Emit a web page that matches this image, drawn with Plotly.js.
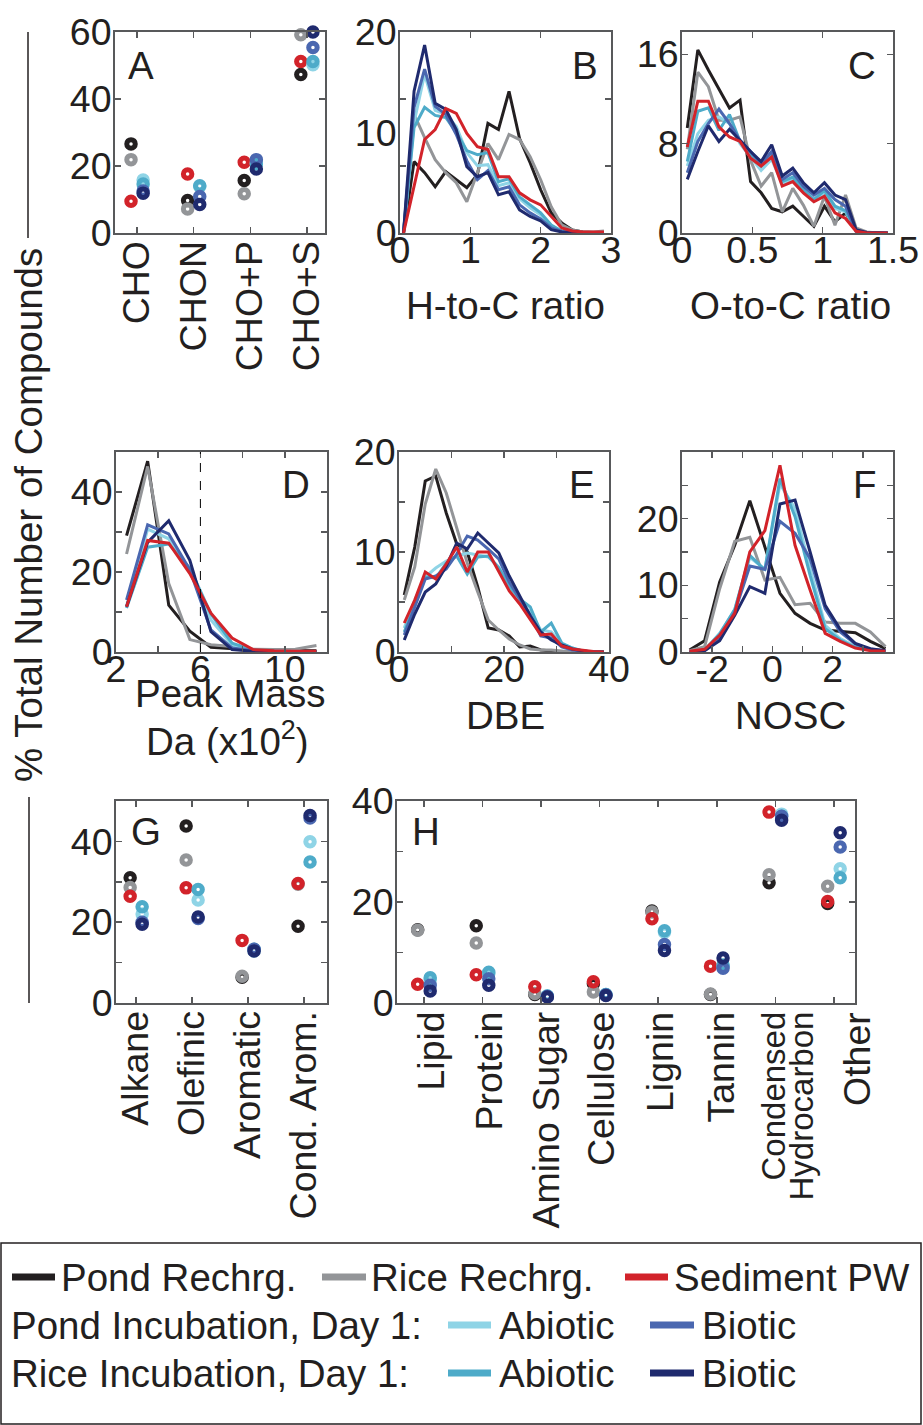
<!DOCTYPE html>
<html>
<head>
<meta charset="utf-8">
<script src="https://cdn.plot.ly/plotly-3.0.1.min.js"></script>
<style>html,body{margin:0;padding:0;background:#fff}#chart{width:923px;height:1425px}</style>
</head>
<body>
<div id="chart"></div>
<script>
// ---------------- DATA ----------------
const seriesNames = ['Pond Rechrg.', 'Rice Rechrg.', 'Sediment PW', 'Pond Abiotic', 'Rice Abiotic', 'Pond Biotic', 'Rice Biotic'];

// Panel A: elemental composition
const elemCats = ['CHO', 'CHON', 'CHO+P', 'CHO+S'];
const elem_PondRech = [26.6, 9.7, 15.7, 47.3];
const elem_RiceRech = [21.9, 7.2, 11.7, 59.2];
const elem_SedPW    = [9.5, 17.6, 21.1, 51.2];
const elem_PondAbio = [15.8, 13.9, 20.8, 50.2];
const elem_RiceAbio = [14.6, 14.1, 20.6, 51.2];
const elem_PondBio  = [12.5, 10.9, 21.9, 55.4];
const elem_RiceBio  = [11.9, 8.5, 19.1, 60.0];

// Panel B: H-to-C ratio
const hcBins = [0.05, 0.2, 0.35, 0.5, 0.65, 0.8, 0.95, 1.1, 1.25, 1.4, 1.55, 1.7, 1.85, 2.0, 2.15, 2.3, 2.45, 2.6, 2.75, 2.9];
const hc_PondRech = [0, 7.1, 6.0, 4.6, 6.1, 5.3, 4.5, 5.8, 10.9, 10.3, 14.1, 9.4, 7.0, 4.3, 2.0, 1.0, 0.3, 0.1, 0.05, 0];
const hc_RiceRech = [0, 11.8, 9.5, 7.3, 6.0, 5.0, 3.1, 6.0, 8.9, 7.3, 9.8, 9.3, 7.6, 5.3, 2.6, 0.8, 0.3, 0.1, 0.1, 0.2];
const hc_SedPW    = [0, 4.7, 9.3, 10.3, 12.4, 11.9, 9.9, 8.6, 8.3, 5.6, 5.6, 4.0, 3.3, 2.8, 1.7, 0.5, 0.2, 0.1, 0.1, 0.1];
const hc_PondAbio = [0, 11.0, 15.8, 12.2, 11.8, 10.6, 8.0, 6.7, 6.8, 4.7, 5.0, 3.4, 2.5, 1.8, 0.7, 0.2, 0.1, 0, 0, 0];
const hc_RiceAbio = [0, 10.5, 12.5, 11.7, 11.5, 10.0, 8.2, 7.8, 8.0, 5.1, 5.4, 3.6, 2.8, 2.0, 0.8, 0.2, 0.1, 0, 0, 0];
const hc_PondBio  = [0, 12.5, 16.3, 12.6, 11.8, 9.8, 7.2, 5.3, 6.2, 4.3, 4.6, 2.8, 2.0, 1.4, 0.5, 0.15, 0.05, 0, 0, 0];
const hc_RiceBio  = [0, 14.1, 18.7, 12.9, 12.3, 10.3, 6.6, 5.6, 6.0, 3.8, 4.1, 2.3, 1.65, 1.2, 0.33, 0.1, 0.05, 0, 0, 0];

// Panel C: O-to-C ratio
const ocBins = [0.0375, 0.1125, 0.1875, 0.2625, 0.3375, 0.4125, 0.4875, 0.5625, 0.6375, 0.7125, 0.7875, 0.8625, 0.9375, 1.0125, 1.0875, 1.1625, 1.2375, 1.3125, 1.3875, 1.4625];
const oc_PondRech = [9.4, 16.4, 14.6, 12.9, 11.2, 11.9, 4.6, 3.6, 2.2, 1.9, 2.4, 1.5, 0.6, 2.4, 1.0, 1.8, 0.3, 0.05, 0, 0];
const oc_RiceRech = [7.5, 14.4, 13.1, 10.1, 10.1, 10.4, 6.5, 4.2, 5.4, 1.9, 4.0, 2.5, 0.6, 3.3, 0.7, 3.4, 0.45, 0.1, 0, 0];
const oc_SedPW    = [7.7, 11.8, 11.8, 9.5, 8.6, 8.2, 6.7, 6.0, 6.8, 4.2, 4.6, 3.6, 2.8, 3.3, 1.8, 1.3, 0.15, 0, 0, 0];
const oc_PondAbio = [6.0, 8.9, 10.1, 10.4, 9.8, 8.0, 6.8, 5.6, 6.6, 4.4, 4.8, 3.7, 2.9, 3.6, 2.2, 1.9, 0.2, 0, 0, 0];
const oc_RiceAbio = [6.4, 10.9, 11.2, 9.2, 10.6, 8.2, 7.0, 6.0, 7.0, 4.6, 5.0, 3.9, 3.0, 3.8, 2.4, 2.0, 0.2, 0, 0, 0];
const oc_PondBio  = [5.4, 8.2, 9.8, 11.1, 9.8, 8.3, 7.3, 6.2, 7.3, 4.8, 5.4, 4.2, 3.4, 4.0, 3.0, 2.4, 0.15, 0, 0, 0];
const oc_RiceBio  = [4.8, 7.3, 9.6, 8.2, 9.3, 8.3, 7.3, 6.4, 7.9, 5.1, 5.8, 4.5, 3.6, 4.5, 3.4, 3.0, 0.3, 0.05, 0, 0];

// Panel D: peak mass (x100 Da)
const massBins = [2.5, 3.5, 4.5, 5.5, 6.5, 7.5, 8.5, 9.5, 10.5, 11.5];
const massCutoff = 6;
const mass_PondRech = [29.1, 47.7, 11.7, 5.2, 1.2, 0.8, 0.5, 0.4, 0.3, 0.3];
const mass_RiceRech = [24.5, 46.4, 17.1, 3.1, 1.8, 1.4, 0.7, 0.6, 0.7, 1.6];
const mass_SedPW    = [11.3, 27.9, 27.2, 19.6, 9.7, 3.5, 0.6, 0.3, 0.2, 0.2];
const mass_PondAbio = [11.5, 30.7, 28.3, 20.4, 8.0, 1.8, 0.4, 0.2, 0.1, 0.1];
const mass_RiceAbio = [11.0, 26.2, 27.0, 21.0, 9.5, 2.2, 0.5, 0.2, 0.1, 0.1];
const mass_PondBio  = [13.0, 31.8, 29.5, 20.5, 5.5, 1.0, 0.3, 0.1, 0.1, 0.1];
const mass_RiceBio  = [11.3, 27.4, 32.8, 22.9, 5.1, 0.6, 0.2, 0.1, 0.1, 0.1];

// Panel E: DBE
const dbeBins = [1, 3, 5, 7, 9, 11, 13, 15, 17, 19, 21, 23, 25, 27, 29, 31, 33, 35, 37, 39];
const dbe_PondRech = [5.7, 10.5, 17.1, 17.6, 13.9, 10.8, 10.0, 6.5, 2.4, 2.2, 1.6, 0.5, 0.6, 0.2, 0.1, 0, 0, 0, 0, 0];
const dbe_RiceRech = [5.2, 8.5, 14.8, 18.3, 15.9, 12.4, 8.9, 6.0, 3.2, 2.2, 1.3, 0.7, 0.3, 0.2, 0.2, 0.1, 0, 0, 0, 0];
const dbe_SedPW    = [2.9, 5.2, 8.0, 7.3, 8.8, 10.5, 8.0, 10.0, 10.0, 8.0, 6.1, 4.8, 3.3, 1.7, 1.8, 0.6, 0.3, 0.15, 0.05, 0];
const dbe_PondAbio = [2.4, 5.2, 7.5, 8.4, 9.1, 9.6, 9.9, 9.7, 9.5, 8.5, 6.5, 5.0, 4.0, 2.2, 2.0, 0.8, 0.4, 0.1, 0, 0];
const dbe_RiceAbio = [2.0, 4.8, 7.5, 7.4, 8.9, 9.6, 7.8, 9.5, 9.6, 8.4, 6.6, 5.3, 4.5, 2.0, 2.9, 0.9, 0.4, 0.1, 0, 0];
const dbe_PondBio  = [1.7, 4.5, 7.3, 7.6, 8.3, 9.8, 11.6, 11.2, 10.3, 9.3, 7.0, 5.3, 3.7, 1.6, 1.4, 0.5, 0.2, 0.1, 0, 0];
const dbe_RiceBio  = [1.2, 3.8, 6.0, 6.8, 8.6, 10.9, 10.3, 11.9, 10.9, 9.9, 7.6, 5.6, 3.6, 2.0, 1.2, 0.7, 0.3, 0.1, 0, 0];

// Panel F: NOSC
const noscBins = [-2.75, -2.25, -1.75, -1.25, -0.75, -0.25, 0.25, 0.75, 1.25, 1.75, 2.25, 2.75, 3.25, 3.75];
const nosc_PondRech = [0.3, 1.7, 10.5, 16.0, 22.7, 15.7, 8.8, 5.8, 4.3, 3.3, 3.1, 2.9, 1.6, 0.5];
const nosc_RiceRech = [0.2, 0.8, 9.5, 16.6, 17.2, 10.8, 11.2, 7.1, 7.3, 4.5, 4.3, 4.3, 3.0, 0.8];
const nosc_SedPW    = [0.1, 0.4, 2.5, 5.8, 15.0, 18.2, 28.0, 16.0, 9.3, 2.8, 1.6, 0.6, 0.2, 0.1];
const nosc_PondAbio = [0, 0.3, 2.8, 6.3, 14.2, 12.4, 25.2, 21.5, 12.5, 4.0, 2.0, 0.8, 0.3, 0.1];
const nosc_RiceAbio = [0, 0.3, 2.7, 6.4, 14.5, 12.3, 26.0, 20.3, 11.5, 3.5, 1.8, 0.7, 0.3, 0.1];
const nosc_PondBio  = [0, 0.2, 2.0, 6.0, 12.9, 12.4, 19.6, 17.8, 14.0, 6.5, 3.0, 1.2, 0.4, 0.2];
const nosc_RiceBio  = [0, 0.2, 1.7, 5.5, 9.8, 8.8, 22.2, 22.8, 15.0, 7.0, 3.4, 1.3, 0.5, 0.2];

// Panel G: structural classes
const structCats = ['Alkane', 'Olefinic', 'Aromatic', 'Cond. Arom.'];
const struct_PondRech = [31.0, 43.8, 6.4, 19.0];
const struct_RiceRech = [28.6, 35.4, 6.6, 29.4];
const struct_SedPW    = [26.4, 28.5, 15.5, 29.6];
const struct_PondAbio = [22.0, 25.5, 12.9, 39.9];
const struct_RiceAbio = [23.8, 28.1, 13.3, 34.9];
const struct_PondBio  = [20.0, 20.9, 13.3, 45.8];
const struct_RiceBio  = [19.5, 21.3, 12.9, 46.4];

// Panel H: compound classes (label lines as drawn under the axis)
const classCats = ['Lipid', 'Protein', 'Amino Sugar', 'Cellulose', 'Lignin', 'Tannin', 'Condensed Hydrocarbon', 'Other'];
const classLabelLines = [['Lipid'], ['Protein'], ['Amino Sugar'], ['Cellulose'], ['Lignin'], ['Tannin'], ['Condensed', 'Hydrocarbon'], ['Other']];
const class_PondRech = [14.5, 15.3, 1.7, 3.8, 18.2, 1.7, 23.8, 19.7];
const class_RiceRech = [14.4, 11.9, 1.9, 2.2, 18.0, 1.8, 25.4, 23.1];
const class_SedPW    = [3.7, 5.6, 3.2, 4.2, 16.7, 7.3, 37.8, 20.1];
const class_PondAbio = [4.5, 5.8, 1.4, 1.7, 14.0, 7.3, 37.4, 26.6];
const class_RiceAbio = [5.0, 6.1, 1.4, 1.7, 14.3, 7.5, 37.0, 24.8];
const class_PondBio  = [3.5, 4.8, 1.3, 1.6, 11.6, 6.9, 37.0, 30.9];
const class_RiceBio  = [2.4, 3.5, 1.2, 1.5, 10.4, 8.9, 36.2, 33.7];

// ---------------- STYLE ----------------
const COLORS = ['#231f20', '#939598', '#d2232a', '#8fd4e6', '#4eabc9', '#4a67b0', '#1f2a6e'];
const FONT = 'Liberation Sans, Arial, Helvetica, sans-serif';
const AXC = '#58595b';
const TXT = '#231f20';
const FS = 37.5;     // tick labels
const FS_T = 38.5;   // titles, letters, legend
const FS_S = 33;     // two-line category label
const W = 923, H = 1425;
const GROUP_OFFSET = 0.107;
const LINE_ORDER = [0, 1, 3, 4, 5, 6, 2];

const px = x => x / W;
const py = y => 1 - y / H;
const xd = (a, b) => [px(a), px(b)];
const yd = (top, bot) => [py(bot), py(top)];

function lineTraces(bins, arrays, xa, ya) {
  return LINE_ORDER.map(i => ({
    type: 'scatter', mode: 'lines', xaxis: xa, yaxis: ya,
    x: bins, y: arrays[i], name: seriesNames[i],
    line: {color: COLORS[i], width: 3},
    showlegend: false, hoverinfo: 'skip'
  }));
}
function markerTraces(arrays, xa, ya) {
  return arrays.map((vals, i) => ({
    type: 'scatter', mode: 'markers', xaxis: xa, yaxis: ya,
    x: vals.map((v, j) => j + 1 + (i < 3 ? -GROUP_OFFSET : GROUP_OFFSET)),
    y: vals, name: seriesNames[i],
    marker: {symbol: 'circle-open', size: 8.5, color: COLORS[i], line: {width: 5, color: COLORS[i]}},
    cliponaxis: false, showlegend: false, hoverinfo: 'skip'
  }));
}

const traces = [].concat(
  markerTraces([elem_PondRech, elem_RiceRech, elem_SedPW, elem_PondAbio, elem_RiceAbio, elem_PondBio, elem_RiceBio], 'x', 'y'),
  lineTraces(hcBins, [hc_PondRech, hc_RiceRech, hc_SedPW, hc_PondAbio, hc_RiceAbio, hc_PondBio, hc_RiceBio], 'x2', 'y2'),
  lineTraces(ocBins, [oc_PondRech, oc_RiceRech, oc_SedPW, oc_PondAbio, oc_RiceAbio, oc_PondBio, oc_RiceBio], 'x3', 'y3'),
  lineTraces(massBins, [mass_PondRech, mass_RiceRech, mass_SedPW, mass_PondAbio, mass_RiceAbio, mass_PondBio, mass_RiceBio], 'x4', 'y4'),
  lineTraces(dbeBins, [dbe_PondRech, dbe_RiceRech, dbe_SedPW, dbe_PondAbio, dbe_RiceAbio, dbe_PondBio, dbe_RiceBio], 'x5', 'y5'),
  lineTraces(noscBins, [nosc_PondRech, nosc_RiceRech, nosc_SedPW, nosc_PondAbio, nosc_RiceAbio, nosc_PondBio, nosc_RiceBio], 'x6', 'y6'),
  markerTraces([struct_PondRech, struct_RiceRech, struct_SedPW, struct_PondAbio, struct_RiceAbio, struct_PondBio, struct_RiceBio], 'x7', 'y7'),
  markerTraces([class_PondRech, class_RiceRech, class_SedPW, class_PondAbio, class_RiceAbio, class_PondBio, class_RiceBio], 'x8', 'y8')
);

function axis(domain, anchor, extra) {
  return Object.assign({
    domain: domain, anchor: anchor, showline: true, linecolor: AXC, linewidth: 2,
    mirror: 'ticks', ticks: 'inside', ticklen: 6, tickwidth: 1.5, tickcolor: AXC,
    showgrid: false, zeroline: false, fixedrange: true, tickmode: 'array',
    tickfont: {family: FONT, size: FS, color: TXT}
  }, extra);
}
function xAxis(domain, anchor, extra) { return axis(domain, anchor, Object.assign({ticklabelstandoff: -17}, extra)); }
function catAxis(domain, anchor, extra) { return axis(domain, anchor, Object.assign({ticklabelstandoff: -9, tickangle: -90}, extra)); }
function yAxis(domain, anchor, extra) { return axis(domain, anchor, Object.assign({ticklabelstandoff: -6}, extra)); }
const idx = arr => arr.map((v, i) => i + 1);

const row1 = yd(32, 233), row2 = yd(452, 652), row3 = yd(801, 1003);

const layout = {
  width: W, height: H, margin: {l: 0, r: 0, t: 0, b: 0},
  paper_bgcolor: '#fff', plot_bgcolor: '#fff', showlegend: false,
  font: {family: FONT, size: FS, color: TXT},
  // A
  xaxis: catAxis(xd(115, 325), 'y', {range: [0.61, 4.32], tickvals: idx(elemCats), ticktext: elemCats}),
  yaxis: yAxis(row1, 'x', {range: [0, 60], tickvals: [0, 20, 40, 60], ticktext: ['0', '20', '40', '60']}),
  // B
  xaxis2: xAxis(xd(400, 611), 'y2', {range: [0, 3], tickvals: [0, 1, 2, 3], ticktext: ['0', '1', '2', '3']}),
  yaxis2: yAxis(row1, 'x2', {range: [0, 20], tickvals: [0, 10, 20], ticktext: ['0', '10', '20'], ticks: '',
    minor: {tickmode: 'array', tickvals: [20 / 3, 40 / 3], ticks: 'inside', ticklen: 6, tickwidth: 1.5, tickcolor: AXC}}),
  // C
  xaxis3: xAxis(xd(682, 893), 'y3', {range: [0, 1.5], tickvals: [0, 0.5, 1, 1.5], ticktext: ['0', '0.5', '1', '1.5']}),
  yaxis3: yAxis(row1, 'x3', {range: [0, 18], tickvals: [0, 8, 16], ticktext: ['0', '8', '16']}),
  // D
  xaxis4: xAxis(xd(116, 327), 'y4', {range: [2, 12], tickvals: [2, 4, 6, 8, 10, 12], ticktext: ['2', '', '6', '', '10', '']}),
  yaxis4: yAxis(row2, 'x4', {range: [0, 50], tickvals: [0, 10, 20, 30, 40, 50], ticktext: ['0', '', '20', '', '40', '']}),
  // E
  xaxis5: xAxis(xd(399, 609), 'y5', {range: [0, 40], tickvals: [0, 10, 20, 30, 40], ticktext: ['0', '', '20', '', '40']}),
  yaxis5: yAxis(row2, 'x5', {range: [0, 20], tickvals: [0, 5, 10, 15, 20], ticktext: ['0', '', '10', '', '20']}),
  // F
  xaxis6: xAxis(xd(682, 893), 'y6', {range: [-3, 4], tickvals: [-3, -2, -1, 0, 1, 2, 3, 4], ticktext: ['', '-2', '', '0', '', '2', '', '']}),
  yaxis6: yAxis(row2, 'x6', {range: [0, 30], tickvals: [0, 5, 10, 15, 20, 25, 30], ticktext: ['0', '', '10', '', '20', '', '']}),
  // G
  xaxis7: catAxis(xd(116, 327), 'y7', {range: [0.64, 4.41], tickvals: idx(structCats), ticktext: structCats}),
  yaxis7: yAxis(row3, 'x7', {range: [0, 50], tickvals: [0, 10, 20, 30, 40, 50], ticktext: ['0', '', '20', '', '40', '']}),
  // H (category labels placed as annotations below)
  xaxis8: axis(xd(397, 855), 'y8', {range: [0.54, 8.36], tickvals: idx(classCats), showticklabels: false}),
  yaxis8: yAxis(row3, 'x8', {range: [0, 40], tickvals: [0, 10, 20, 30, 40], ticktext: ['0', '', '20', '', '40']}),
  shapes: [],
  annotations: []
};

// dashed reference line in D
layout.shapes.push({type: 'line', xref: 'x4', yref: 'y4', x0: massCutoff, x1: massCutoff, y0: 0, y1: 50,
  line: {color: '#000', width: 1, dash: 'dash'}});

// y title bracket lines
layout.shapes.push({type: 'line', xref: 'paper', yref: 'paper', x0: px(28), x1: px(28), y0: py(32), y1: py(238), line: {color: TXT, width: 1.5}});
layout.shapes.push({type: 'line', xref: 'paper', yref: 'paper', x0: px(29), x1: px(29), y0: py(797), y1: py(1003), line: {color: TXT, width: 1.5}});

function note(text, x, y, extra) {
  layout.annotations.push(Object.assign({text: text, xref: 'paper', yref: 'paper', x: px(x), y: py(y),
    showarrow: false, xanchor: 'center', yanchor: 'middle', font: {family: FONT, size: FS_T, color: TXT}}, extra || {}));
}

// panel letters
[['A', 141, 65], ['B', 585, 66], ['C', 862, 66], ['D', 296, 485], ['E', 582, 485], ['F', 865, 485], ['G', 146, 831], ['H', 426, 831]]
  .forEach(p => note(p[0], p[1], p[2]));

// axis titles
note('H-to-C ratio', 505, 306);
note('O-to-C ratio', 790, 306);
note('Peak Mass', 230, 693);
note('Da (x10<sup>2</sup>)', 227, 739);
note('DBE', 505, 715);
note('NOSC', 790, 715);
note('% Total Number of Compounds', 28, 515, {textangle: -90});

// H category labels (rotated, top-aligned under the axis)
const classLabelX = [[430], [488], [545], [601], [660], [720], [773, 801], [857]];
classLabelLines.forEach((lines, i) => {
  const size = lines.length > 1 ? FS_S : FS;
  lines.forEach((ln, k) => note(ln, classLabelX[i][k], 1010, {textangle: -90, yanchor: 'top', font: {family: FONT, size: size, color: TXT}}));
});

// legend box
layout.shapes.push({type: 'rect', xref: 'paper', yref: 'paper', x0: px(1), x1: px(921), y0: py(1424), y1: py(1243),
  line: {color: TXT, width: 1.5}, fillcolor: 'rgba(0,0,0,0)'});
const legendItems = [
  // [seriesIndex, barX0, barX1, textX, rowY, label]
  [0, 12, 55, 59, 1277, 'Pond Rechrg.'],
  [1, 322, 366, 369, 1277, 'Rice Rechrg.'],
  [2, 625, 668, 672, 1277, 'Sediment PW'],
  [3, 448, 491, 497, 1325, 'Abiotic'],
  [5, 650, 694, 700, 1325, 'Biotic'],
  [4, 448, 491, 497, 1373, 'Abiotic'],
  [6, 650, 694, 700, 1373, 'Biotic']
];
legendItems.forEach(it => {
  layout.shapes.push({type: 'line', xref: 'paper', yref: 'paper', x0: px(it[1]), x1: px(it[2]), y0: py(it[4]), y1: py(it[4]),
    line: {color: COLORS[it[0]], width: 7}});
  note(it[5], it[3], it[4], {xanchor: 'left'});
});
note('Pond Incubation, Day 1:', 9, 1325, {xanchor: 'left'});
note('Rice Incubation, Day 1:', 9, 1373, {xanchor: 'left'});

Plotly.newPlot('chart', traces, layout, {displayModeBar: false, staticPlot: true});
</script>
</body>
</html>
